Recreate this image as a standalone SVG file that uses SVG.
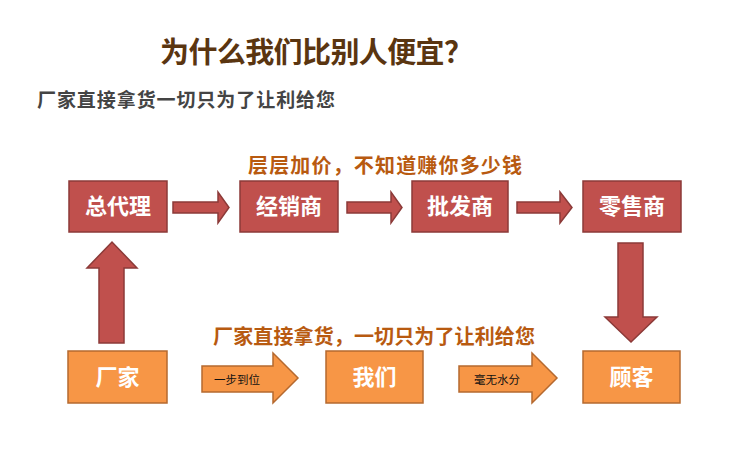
<svg xmlns="http://www.w3.org/2000/svg" width="750" height="454" viewBox="0 0 750 454">
<style>
text{font-family:"Noto Sans CJK SC","Noto Sans",sans-serif;font-weight:bold}
.red{fill:#c0504d;stroke:#8c3a38;stroke-width:1.5}
.org{fill:#f79646;stroke:#b5692f;stroke-width:1.5}
.bt{fill:#fff;font-size:22px;text-anchor:middle}
.at{fill:#111;font-size:11.5px;font-weight:normal;text-anchor:middle}
.cap{fill:#b85a10;font-size:20px}
</style>
<rect width="750" height="454" fill="#fff"/>
<text x="160" y="63" font-size="29" fill="#5a3510" textLength="313" lengthAdjust="spacing">为什么我们比别人便宜？</text>
<text x="37" y="107" font-size="19" fill="#444" textLength="298" lengthAdjust="spacing">厂家直接拿货一切只为了让利给您</text>
<text x="248" y="173" class="cap" font-size="21" textLength="274" lengthAdjust="spacing">层层加价，不知道赚你多少钱</text>
<text x="213" y="344" class="cap" textLength="322" lengthAdjust="spacing">厂家直接拿货，一切只为了让利给您</text>
<g id="connectors">
<polygon class="red" points="173,202 218,202 218,192 229,207.5 218,223 218,213 173,213"/>
<polygon class="red" points="347,202 391,202 391,192 402,207.5 391,223 391,213 347,213"/>
<polygon class="red" points="517,202 560,202 560,192 572,207.5 560,223 560,213 517,213"/>
<polygon class="red" points="99,343 99,268 87,268 112,242 137,268 124,268 124,343"/>
<polygon class="red" points="618,243 643,243 643,317 657,317 631,342 605,317 618,317"/>
<g id="arrow-yibu"><polygon class="org" points="202,366 273,366 273,353 298,378 273,403 273,392 202,392"/><text class="at" x="237" y="384">一步到位</text></g>
<g id="arrow-haowu"><polygon class="org" points="459,366 532,366 532,353 557,378 532,403 532,392 459,392"/><text class="at" x="497" y="384">毫无水分</text></g>
</g>
<g id="zongdaili"><rect class="red" x="69" y="181" width="98" height="51"/><text class="bt" x="118" y="214">总代理</text></g>
<g id="jingxiaoshang"><rect class="red" x="240" y="181" width="98" height="51"/><text class="bt" x="289" y="214">经销商</text></g>
<g id="pifashang"><rect class="red" x="412" y="181" width="96" height="51"/><text class="bt" x="460" y="214">批发商</text></g>
<g id="lingshoushang"><rect class="red" x="583" y="181" width="98" height="51"/><text class="bt" x="632" y="214">零售商</text></g>
<g id="changjia"><rect class="org" x="68" y="351" width="99" height="52"/><text class="bt" x="117.5" y="385">厂家</text></g>
<g id="women"><rect class="org" x="326" y="351" width="97" height="52"/><text class="bt" x="374.5" y="385">我们</text></g>
<g id="guke"><rect class="org" x="583" y="351" width="97" height="52"/><text class="bt" x="631.5" y="385">顾客</text></g>
</svg>
